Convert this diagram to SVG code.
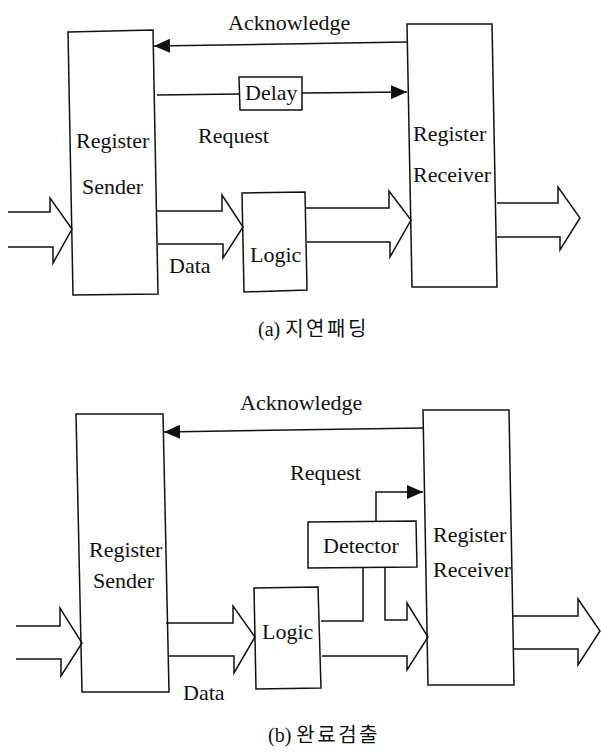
<svg xmlns="http://www.w3.org/2000/svg" width="601" height="754" viewBox="0 0 601 754">
<style>
  .box{fill:#fff;stroke:#111;stroke-width:1.5}
  .ln{fill:none;stroke:#111;stroke-width:1.5;stroke-linejoin:miter}
  .t{font-family:"Liberation Serif","Times New Roman",serif;font-size:22px;fill:#111}
  .cap{font-family:"Liberation Serif","Noto Sans CJK KR",serif;font-size:20px;fill:#111}
  .ko{font-family:"Noto Sans CJK KR",sans-serif;font-size:20px;letter-spacing:2.5px}
</style>
<defs>
  <marker id="ah" markerUnits="userSpaceOnUse" markerWidth="16" markerHeight="14" refX="16" refY="7" orient="auto">
    <path d="M0,0 L16,7 L0,14 z" fill="#111"/>
  </marker>
</defs>
<rect width="601" height="754" fill="#fff"/>

<!-- (a) -->
<g id="a-sender">
  <polygon class="box" points="68,32 153,30 158,294 73,295"/>
  <text class="t" x="76" y="148">Register</text>
  <text class="t" x="82" y="194">Sender</text>
</g>
<g id="a-receiver">
  <polygon class="box" points="407,24 492,24 497,287 412,287"/>
  <text class="t" x="413" y="141">Register</text>
  <text class="t" x="413" y="182">Receiver</text>
</g>
<g id="a-delay">
  <polygon class="box" points="239,77 302,77 302,110 240,110"/>
  <text class="t" x="245" y="100">Delay</text>
</g>
<g id="a-logic">
  <polygon class="box" points="242,193 305,192 307,290 244,292"/>
  <text class="t" x="250" y="262">Logic</text>
</g>
<g id="a-connectors">
  <path class="ln" d="M407,42 L154,46" marker-end="url(#ah)"/>
  <path class="ln" d="M157,95 L239,94"/>
  <path class="ln" d="M302,93 L407,92" marker-end="url(#ah)"/>
  <path class="ln" d="M8,212 H50 V198 L72,229 L53,263 V247 H8"/>
  <path class="ln" d="M157,211 H222 V195 L243,227 L223,258 V244 H158"/>
  <path class="ln" d="M306,208 H389 V191 L411,220 L390,257 V242 H307"/>
  <path class="ln" d="M497,203 H558 V187 L580,218 L560,250 V237 H497"/>
</g>
<g id="a-labels">
  <text class="t" x="228" y="30">Acknowledge</text>
  <text class="t" x="198" y="143">Request</text>
  <text class="t" x="169" y="273">Data</text>
  <text class="cap" x="258" y="336">(a) <tspan class="ko">지연패딩</tspan></text>
</g>

<!-- (b) -->
<g id="b-sender">
  <polygon class="box" points="76,414 163,414 169,692 82,692"/>
  <text class="t" x="89" y="557">Register</text>
  <text class="t" x="93" y="588">Sender</text>
</g>
<g id="b-receiver">
  <polygon class="box" points="423,410 509,410 514,685 428,685"/>
  <text class="t" x="433" y="542">Register</text>
  <text class="t" x="433" y="577">Receiver</text>
</g>
<g id="b-detector">
  <polygon class="box" points="308,522 416,521 417,567 308,568"/>
  <text class="t" x="323" y="553">Detector</text>
</g>
<g id="b-logic">
  <polygon class="box" points="254,588 318,587 321,688 256,689"/>
  <text class="t" x="262" y="639">Logic</text>
</g>
<g id="b-connectors">
  <path class="ln" d="M423,428 L164,432" marker-end="url(#ah)"/>
  <path class="ln" d="M376,522 V492 H423" marker-end="url(#ah)"/>
  <path class="ln" d="M16,626 H60 V608 L82,643 L61,676 V659 H16"/>
  <path class="ln" d="M166,623 H233 V606 L255,637 L234,673 V656 H168"/>
  <path class="ln" d="M321,621 H363 V567"/>
  <path class="ln" d="M385,567 V620 H407 V603 L428,637 L407,670 V656 H322"/>
  <path class="ln" d="M512,616 H578 V599 L600,631 L578,665 V649 H514"/>
</g>
<g id="b-labels">
  <text class="t" x="240" y="410">Acknowledge</text>
  <text class="t" x="290" y="480">Request</text>
  <text class="t" x="183" y="700">Data</text>
  <text class="cap" x="268" y="742">(b) <tspan class="ko">완료검출</tspan></text>
</g>
</svg>
